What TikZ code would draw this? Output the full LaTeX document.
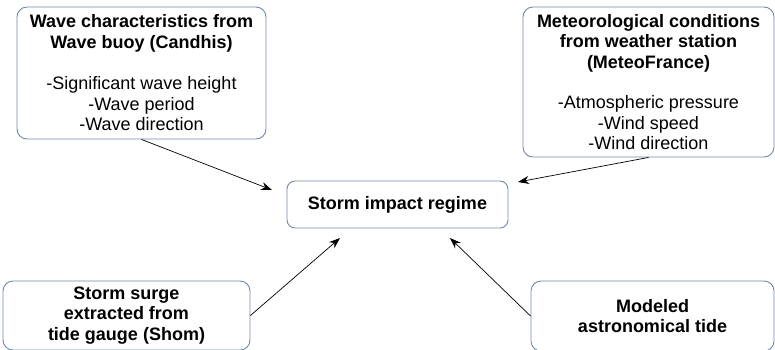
\documentclass[tikz,border=0pt]{standalone}
\usepackage{fontspec}
\setmainfont{Liberation Sans}
\usetikzlibrary{arrows.meta}
\definecolor{boxline}{HTML}{7088A8}
\begin{document}
\begin{tikzpicture}[x=1pt,y=-1pt,
  infobox/.style={draw=boxline, line width=0.9pt, rounded corners=10pt,
    align=center, inner sep=0pt, font=\fontsize{18}{20.5}\selectfont},
  arr/.style={line width=0.7pt, -{Stealth[length=11pt,width=8pt]}}]
\useasboundingbox (0,0) rectangle (775,349);

% source boxes
\node[infobox, minimum width=249pt, minimum height=132pt] (wave) at (141.5,73)
  {\textbf{Wave characteristics from}\\\textbf{Wave buoy (Candhis)}\\[21pt]
   -Significant wave height\\-Wave period\\-Wave direction};
\node[infobox, minimum width=251pt, minimum height=150pt] (meteo) at (648.5,82)
  {\textbf{Meteorological conditions}\\\textbf{from weather station}\\\textbf{(MeteoFrance)}\\[20pt]
   -Atmospheric pressure\\-Wind speed\\-Wind direction};
\node[infobox, minimum width=247pt, minimum height=69pt] (surge) at (126.5,315.5)
  {\textbf{Storm surge}\\\textbf{extracted from}\\\textbf{tide gauge (Shom)}};
\node[infobox, minimum width=243pt, minimum height=70pt] (tide) at (652.5,316)
  {\textbf{Modeled}\\\textbf{astronomical tide}};

% target box
\node[infobox, rounded corners=8pt, minimum width=221pt, minimum height=47pt] (regime) at (397.5,204.5)
  {\textbf{Storm impact regime}};

% arrow tips, just short of the target box
\coordinate (t1) at (272,190);
\coordinate (t2) at (518,182);
\coordinate (t3) at (340,238);
\coordinate (t4) at (450,238);

\draw[arr] (wave.south) -- (t1);
\draw[arr] (meteo.south) -- (t2);
\draw[arr] (surge.east) -- (t3);
\draw[arr] (tide.west) -- (t4);
\end{tikzpicture}
\end{document}
